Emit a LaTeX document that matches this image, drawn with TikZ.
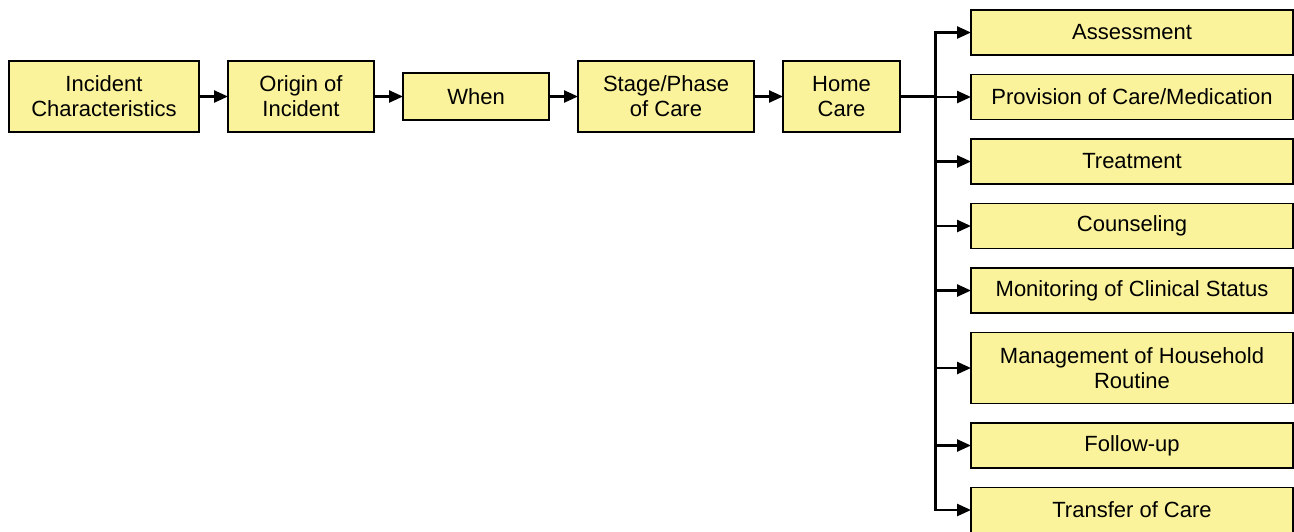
\documentclass[tikz,border=0pt]{standalone}
\usepackage{fontspec}
\setmainfont{Liberation Sans}
\usetikzlibrary{arrows.meta,positioning}
\definecolor{boxfill}{RGB}{250,243,155}

\begin{document}
\begin{tikzpicture}[
  font=\fontsize{11}{12.5}\selectfont,
  node distance=14.5pt,
  box/.style={
    draw,
    fill=boxfill,
    line width=0.8pt,
    align=center,
    minimum height=35.5pt,
    inner sep=1pt,
    outer sep=0pt
  },
  item/.style={
    box,
    minimum width=161pt,
    minimum height=22.5pt
  },
  line/.style={line width=1.2pt},
  arrow/.style={line, -{Triangle[length=7pt,width=6pt]}}
]
\useasboundingbox (0,0) rectangle (647pt,-265.5pt);

% chain
\node[box, minimum width=95pt] (incident) at (52pt,-48.25pt) {Incident\\Characteristics};
\node[box, minimum width=73pt, right=of incident] (origin) {Origin of\\Incident};
\node[box, minimum width=73pt, minimum height=23.5pt, right=of origin] (when) {When};
\node[box, minimum width=88pt, right=of when] (stage) {Stage/Phase\\of Care};
\node[box, minimum width=58.5pt, right=of stage] (home) {Home\\Care};

% home care items
\node[item] (assess) at (566pt,-16.25pt) {Assessment};
\node[item, below=9.75pt of assess] (provision) {Provision of Care/Medication};
\node[item, below=9.75pt of provision] (treat) {Treatment};
\node[item, below=9.75pt of treat] (counsel) {Counseling};
\node[item, below=9.75pt of counsel] (monitor) {Monitoring of Clinical Status};
\node[item, minimum height=35.5pt, below=9.75pt of monitor] (manage) {Management of Household\\Routine};
\node[item, below=9.75pt of manage] (follow) {Follow-up};
\node[item, below=9.75pt of follow] (transfer) {Transfer of Care};

\coordinate[right=17.75pt of home.east] (split);

\draw[arrow] (incident) -- (origin);
\draw[arrow] (origin) -- (when);
\draw[arrow] (when) -- (stage);
\draw[arrow] (stage) -- (home);
\draw[line] (home.east) -- (split);
\foreach \n in {assess,provision,treat,counsel,monitor,manage,follow,transfer}
  \draw[arrow] (split) |- (\n.west);
\end{tikzpicture}
\end{document}
